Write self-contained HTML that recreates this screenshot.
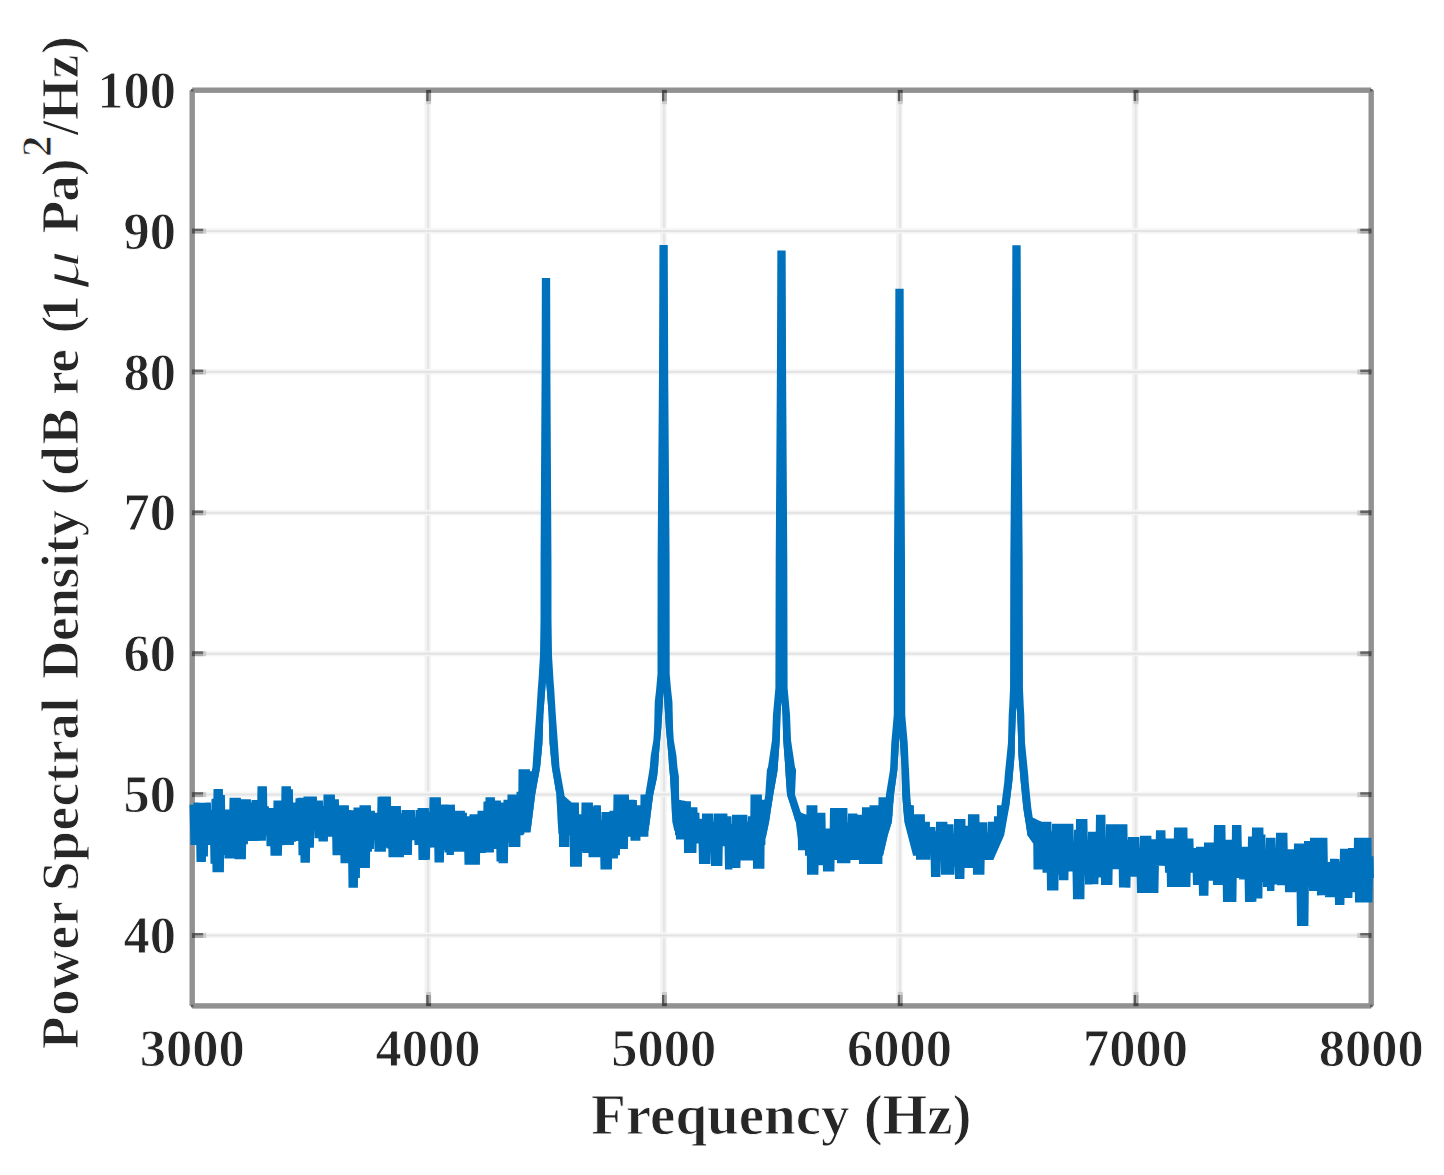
<!DOCTYPE html>
<html><head><meta charset="utf-8"><style>
html,body{margin:0;padding:0;background:#fff;}
svg{display:block;}
#w{}
text{font-family:"Liberation Serif",serif;font-weight:bold;fill:#262626;stroke:#fff;stroke-width:0.9px;}
</style></head><body>
<div id="w"><svg width="1444" height="1175" viewBox="0 0 1444 1175">
<rect width="1444" height="1175" fill="#fff"/>
<rect x="424.50" y="90.2" width="2.5" height="915.7" fill="#f3f3f3"/><rect x="427.00" y="90.2" width="2.4" height="915.7" fill="#e5e5e5"/><rect x="429.40" y="90.2" width="1.4" height="915.7" fill="#f0f0f0"/><rect x="660.30" y="90.2" width="2.5" height="915.7" fill="#f3f3f3"/><rect x="662.80" y="90.2" width="2.4" height="915.7" fill="#e5e5e5"/><rect x="665.20" y="90.2" width="1.4" height="915.7" fill="#f0f0f0"/><rect x="896.10" y="90.2" width="2.5" height="915.7" fill="#f3f3f3"/><rect x="898.60" y="90.2" width="2.4" height="915.7" fill="#e5e5e5"/><rect x="901.00" y="90.2" width="1.4" height="915.7" fill="#f0f0f0"/><rect x="1131.90" y="90.2" width="2.5" height="915.7" fill="#f3f3f3"/><rect x="1134.40" y="90.2" width="2.4" height="915.7" fill="#e5e5e5"/><rect x="1136.80" y="90.2" width="1.4" height="915.7" fill="#f0f0f0"/><rect x="192.2" y="932.46" width="1179.0" height="1.8" fill="#f7f7f7"/><rect x="192.2" y="934.26" width="1179.0" height="2.4" fill="#e4e4e4"/><rect x="192.2" y="936.66" width="1179.0" height="1.4" fill="#f4f4f4"/><rect x="192.2" y="791.58" width="1179.0" height="1.8" fill="#f7f7f7"/><rect x="192.2" y="793.38" width="1179.0" height="2.4" fill="#e4e4e4"/><rect x="192.2" y="795.78" width="1179.0" height="1.4" fill="#f4f4f4"/><rect x="192.2" y="650.71" width="1179.0" height="1.8" fill="#f7f7f7"/><rect x="192.2" y="652.51" width="1179.0" height="2.4" fill="#e4e4e4"/><rect x="192.2" y="654.91" width="1179.0" height="1.4" fill="#f4f4f4"/><rect x="192.2" y="509.83" width="1179.0" height="1.8" fill="#f7f7f7"/><rect x="192.2" y="511.63" width="1179.0" height="2.4" fill="#e4e4e4"/><rect x="192.2" y="514.03" width="1179.0" height="1.4" fill="#f4f4f4"/><rect x="192.2" y="368.95" width="1179.0" height="1.8" fill="#f7f7f7"/><rect x="192.2" y="370.75" width="1179.0" height="2.4" fill="#e4e4e4"/><rect x="192.2" y="373.15" width="1179.0" height="1.4" fill="#f4f4f4"/><rect x="192.2" y="228.08" width="1179.0" height="1.8" fill="#f7f7f7"/><rect x="192.2" y="229.88" width="1179.0" height="2.4" fill="#e4e4e4"/><rect x="192.2" y="232.28" width="1179.0" height="1.4" fill="#f4f4f4"/>
<rect x="189.50" y="90.20" width="5.4" height="915.70" fill="#919191"/><rect x="1368.50" y="90.20" width="5.4" height="915.70" fill="#919191"/><rect x="192.20" y="87.50" width="1179.00" height="5.4" fill="#919191"/><rect x="192.20" y="1003.20" width="1179.00" height="5.4" fill="#919191"/>
<rect x="426.20" y="991.90" width="4.9" height="3" fill="#cbcbcb"/><rect x="426.20" y="994.90" width="2.6" height="11" fill="#5a5a5a"/><rect x="428.80" y="994.90" width="2.3" height="11" fill="#a3a3a3"/><rect x="426.20" y="1003.20" width="4.9" height="3" fill="#454545"/><rect x="426.20" y="101.20" width="4.9" height="3" fill="#cbcbcb"/><rect x="426.20" y="90.20" width="2.6" height="11" fill="#5a5a5a"/><rect x="428.80" y="90.20" width="2.3" height="11" fill="#a3a3a3"/><rect x="426.20" y="89.90" width="4.9" height="3" fill="#454545"/><rect x="662.00" y="991.90" width="4.9" height="3" fill="#cbcbcb"/><rect x="662.00" y="994.90" width="2.6" height="11" fill="#5a5a5a"/><rect x="664.60" y="994.90" width="2.3" height="11" fill="#a3a3a3"/><rect x="662.00" y="1003.20" width="4.9" height="3" fill="#454545"/><rect x="662.00" y="101.20" width="4.9" height="3" fill="#cbcbcb"/><rect x="662.00" y="90.20" width="2.6" height="11" fill="#5a5a5a"/><rect x="664.60" y="90.20" width="2.3" height="11" fill="#a3a3a3"/><rect x="662.00" y="89.90" width="4.9" height="3" fill="#454545"/><rect x="897.80" y="991.90" width="4.9" height="3" fill="#cbcbcb"/><rect x="897.80" y="994.90" width="2.6" height="11" fill="#5a5a5a"/><rect x="900.40" y="994.90" width="2.3" height="11" fill="#a3a3a3"/><rect x="897.80" y="1003.20" width="4.9" height="3" fill="#454545"/><rect x="897.80" y="101.20" width="4.9" height="3" fill="#cbcbcb"/><rect x="897.80" y="90.20" width="2.6" height="11" fill="#5a5a5a"/><rect x="900.40" y="90.20" width="2.3" height="11" fill="#a3a3a3"/><rect x="897.80" y="89.90" width="4.9" height="3" fill="#454545"/><rect x="1133.60" y="991.90" width="4.9" height="3" fill="#cbcbcb"/><rect x="1133.60" y="994.90" width="2.6" height="11" fill="#5a5a5a"/><rect x="1136.20" y="994.90" width="2.3" height="11" fill="#a3a3a3"/><rect x="1133.60" y="1003.20" width="4.9" height="3" fill="#454545"/><rect x="1133.60" y="101.20" width="4.9" height="3" fill="#cbcbcb"/><rect x="1133.60" y="90.20" width="2.6" height="11" fill="#5a5a5a"/><rect x="1136.20" y="90.20" width="2.3" height="11" fill="#a3a3a3"/><rect x="1133.60" y="89.90" width="4.9" height="3" fill="#454545"/><rect x="203.20" y="933.06" width="3" height="4.9" fill="#cbcbcb"/><rect x="192.20" y="933.06" width="11" height="2.6" fill="#626262"/><rect x="192.20" y="935.66" width="11" height="2.3" fill="#a8a8a8"/><rect x="191.90" y="933.06" width="3" height="4.9" fill="#4f4f4f"/><rect x="1357.20" y="933.06" width="3" height="4.9" fill="#cbcbcb"/><rect x="1360.20" y="933.06" width="11" height="2.6" fill="#626262"/><rect x="1360.20" y="935.66" width="11" height="2.3" fill="#a8a8a8"/><rect x="1368.50" y="933.06" width="3" height="4.9" fill="#4f4f4f"/><rect x="203.20" y="792.18" width="3" height="4.9" fill="#cbcbcb"/><rect x="192.20" y="792.18" width="11" height="2.6" fill="#626262"/><rect x="192.20" y="794.78" width="11" height="2.3" fill="#a8a8a8"/><rect x="191.90" y="792.18" width="3" height="4.9" fill="#4f4f4f"/><rect x="1357.20" y="792.18" width="3" height="4.9" fill="#cbcbcb"/><rect x="1360.20" y="792.18" width="11" height="2.6" fill="#626262"/><rect x="1360.20" y="794.78" width="11" height="2.3" fill="#a8a8a8"/><rect x="1368.50" y="792.18" width="3" height="4.9" fill="#4f4f4f"/><rect x="203.20" y="651.31" width="3" height="4.9" fill="#cbcbcb"/><rect x="192.20" y="651.31" width="11" height="2.6" fill="#626262"/><rect x="192.20" y="653.91" width="11" height="2.3" fill="#a8a8a8"/><rect x="191.90" y="651.31" width="3" height="4.9" fill="#4f4f4f"/><rect x="1357.20" y="651.31" width="3" height="4.9" fill="#cbcbcb"/><rect x="1360.20" y="651.31" width="11" height="2.6" fill="#626262"/><rect x="1360.20" y="653.91" width="11" height="2.3" fill="#a8a8a8"/><rect x="1368.50" y="651.31" width="3" height="4.9" fill="#4f4f4f"/><rect x="203.20" y="510.43" width="3" height="4.9" fill="#cbcbcb"/><rect x="192.20" y="510.43" width="11" height="2.6" fill="#626262"/><rect x="192.20" y="513.03" width="11" height="2.3" fill="#a8a8a8"/><rect x="191.90" y="510.43" width="3" height="4.9" fill="#4f4f4f"/><rect x="1357.20" y="510.43" width="3" height="4.9" fill="#cbcbcb"/><rect x="1360.20" y="510.43" width="11" height="2.6" fill="#626262"/><rect x="1360.20" y="513.03" width="11" height="2.3" fill="#a8a8a8"/><rect x="1368.50" y="510.43" width="3" height="4.9" fill="#4f4f4f"/><rect x="203.20" y="369.55" width="3" height="4.9" fill="#cbcbcb"/><rect x="192.20" y="369.55" width="11" height="2.6" fill="#626262"/><rect x="192.20" y="372.15" width="11" height="2.3" fill="#a8a8a8"/><rect x="191.90" y="369.55" width="3" height="4.9" fill="#4f4f4f"/><rect x="1357.20" y="369.55" width="3" height="4.9" fill="#cbcbcb"/><rect x="1360.20" y="369.55" width="11" height="2.6" fill="#626262"/><rect x="1360.20" y="372.15" width="11" height="2.3" fill="#a8a8a8"/><rect x="1368.50" y="369.55" width="3" height="4.9" fill="#4f4f4f"/><rect x="203.20" y="228.68" width="3" height="4.9" fill="#cbcbcb"/><rect x="192.20" y="228.68" width="11" height="2.6" fill="#626262"/><rect x="192.20" y="231.28" width="11" height="2.3" fill="#a8a8a8"/><rect x="191.90" y="228.68" width="3" height="4.9" fill="#4f4f4f"/><rect x="1357.20" y="228.68" width="3" height="4.9" fill="#cbcbcb"/><rect x="1360.20" y="228.68" width="11" height="2.6" fill="#626262"/><rect x="1360.20" y="231.28" width="11" height="2.3" fill="#a8a8a8"/><rect x="1368.50" y="228.68" width="3" height="4.9" fill="#4f4f4f"/><rect x="191.00" y="89.00" width="2.6" height="2.6" fill="#5e5e5e"/><rect x="1370.00" y="89.00" width="2.6" height="2.6" fill="#5e5e5e"/><rect x="191.00" y="1004.70" width="2.6" height="2.6" fill="#5e5e5e"/><rect x="1370.00" y="1004.70" width="2.6" height="2.6" fill="#5e5e5e"/>
<path d="M192.20,804.72 193.20,844.89 194.20,804.72 195.20,844.89 196.20,802.68 197.20,839.44 198.20,802.68 199.20,861.91 200.20,802.68 201.20,861.91 202.20,802.68 203.20,861.91 204.20,802.68 205.20,856.37 206.20,802.68 207.20,844.89 208.20,802.68 209.20,844.89 210.20,810.17 211.20,844.89 212.20,810.17 213.20,863.74 214.20,798.67 215.20,872.12 216.20,789.06 217.20,872.12 218.20,789.06 219.20,872.12 220.20,789.06 221.20,872.12 222.20,795.10 223.20,846.25 224.20,809.49 225.20,854.85 226.20,809.49 227.20,858.51 228.20,809.49 229.20,858.51 230.20,809.49 231.20,858.51 232.20,797.91 233.20,858.51 234.20,797.91 235.20,846.25 236.20,797.91 237.20,859.19 238.20,797.91 239.20,859.19 240.20,810.17 241.20,859.19 242.20,799.28 243.20,859.19 244.20,799.28 245.20,844.21 246.20,799.28 247.20,840.81 248.20,799.28 249.20,840.81 250.20,802.68 251.20,840.81 252.20,802.68 253.20,840.81 254.20,799.96 255.20,840.81 256.20,799.96 257.20,840.81 258.20,799.96 259.20,840.81 260.20,786.34 261.20,840.81 262.20,786.34 263.20,840.81 264.20,786.34 265.20,835.36 266.20,806.44 267.20,835.36 268.20,808.13 269.20,846.25 270.20,808.13 271.20,846.25 272.20,808.13 273.20,855.78 274.20,808.13 275.20,855.78 276.20,800.64 277.20,855.78 278.20,800.64 279.20,855.78 280.20,800.64 281.20,845.14 282.20,800.64 283.20,844.89 284.20,786.34 285.20,844.89 286.20,786.34 287.20,844.89 288.20,786.34 289.20,844.89 290.20,789.18 291.20,844.89 292.20,802.68 293.20,841.66 294.20,802.68 295.20,840.81 296.20,802.68 297.20,840.81 298.20,798.28 299.20,840.81 300.20,797.91 301.20,855.30 302.20,797.91 303.20,862.59 304.20,797.91 305.20,862.59 306.20,796.55 307.20,862.59 308.20,796.55 309.20,847.61 310.20,796.55 311.20,847.61 312.20,796.55 313.20,829.91 314.20,796.55 315.20,829.91 316.20,800.64 317.20,838.08 318.20,800.64 319.20,838.08 320.20,800.64 321.20,841.49 322.20,806.08 323.20,841.49 324.20,806.08 325.20,841.49 326.20,794.51 327.20,836.72 328.20,794.51 329.20,836.72 330.20,794.51 331.20,836.72 332.20,794.51 333.20,836.72 334.20,799.28 335.20,855.10 336.20,799.28 337.20,855.10 338.20,805.40 339.20,855.10 340.20,805.40 341.20,855.10 342.20,805.40 343.20,863.27 344.20,805.40 345.20,863.27 346.20,805.40 347.20,863.27 348.20,810.17 349.20,863.27 350.20,810.17 351.20,887.78 352.20,810.17 353.20,887.78 354.20,817.66 355.20,887.78 356.20,807.45 357.20,878.05 358.20,807.45 359.20,854.42 360.20,807.45 361.20,868.04 362.20,805.40 363.20,868.04 364.20,805.40 365.20,868.04 366.20,805.40 367.20,868.04 368.20,805.40 369.20,851.70 370.20,810.81 371.20,848.93 372.20,810.81 373.20,838.04 374.20,812.85 375.20,838.04 376.20,812.85 377.20,851.66 378.20,812.85 379.20,851.66 380.20,796.81 381.20,851.66 382.20,796.51 383.20,851.66 384.20,796.51 385.20,847.57 386.20,796.51 387.20,847.57 388.20,796.51 389.20,848.53 390.20,806.04 391.20,857.10 392.20,806.04 393.20,857.10 394.20,806.04 395.20,857.10 396.20,806.04 397.20,857.10 398.20,806.04 399.20,857.10 400.20,813.53 401.20,857.10 402.20,813.53 403.20,843.49 404.20,810.13 405.20,855.06 406.20,810.13 407.20,855.06 408.20,810.13 409.20,855.06 410.20,810.13 411.20,840.08 412.20,810.13 413.20,840.08 414.20,817.61 415.20,840.08 416.20,817.61 417.20,844.85 418.20,810.03 419.20,844.85 420.20,808.08 421.20,859.83 422.20,808.08 423.20,859.83 424.20,808.08 425.20,859.83 426.20,808.08 427.20,859.73 428.20,812.17 429.20,847.57 430.20,812.17 431.20,847.57 432.20,797.19 433.20,847.57 434.20,797.19 435.20,847.57 436.20,797.19 437.20,862.55 438.20,797.19 439.20,862.55 440.20,808.76 441.20,862.55 442.20,804.68 443.20,850.16 444.20,804.68 445.20,846.21 446.20,804.68 447.20,852.37 448.20,804.68 449.20,855.06 450.20,804.68 451.20,855.06 452.20,804.68 453.20,851.66 454.20,810.81 455.20,851.66 456.20,810.81 457.20,851.66 458.20,810.81 459.20,851.66 460.20,810.81 461.20,851.66 462.20,810.81 463.20,851.66 464.20,812.77 465.20,851.66 466.20,816.25 467.20,864.59 468.20,816.25 469.20,864.59 470.20,816.25 471.20,864.59 472.20,814.21 473.20,864.59 474.20,814.21 475.20,864.59 476.20,814.21 477.20,864.59 478.20,814.21 479.20,853.02 480.20,810.81 481.20,853.02 482.20,810.81 483.20,852.93 484.20,810.81 485.20,852.34 486.20,801.62 487.20,852.34 488.20,797.19 489.20,852.34 490.20,797.19 491.20,852.34 492.20,797.19 493.20,848.93 494.20,800.59 495.20,848.93 496.20,800.59 497.20,848.93 498.20,800.59 499.20,861.58 500.20,802.64 501.20,863.23 502.20,802.64 503.20,863.23 504.20,802.64 505.20,863.23 506.20,799.91 507.20,842.12 508.20,799.91 509.20,842.12 510.20,794.47 511.20,846.89 512.20,794.47 513.20,846.89 514.20,794.47 515.20,846.89 516.20,794.47 516.70,846.89 517.20,801.27 517.70,846.89 518.20,801.27 518.70,835.32 519.20,791.74 519.70,835.32 520.20,791.74 520.70,835.32 521.20,769.28 521.70,834.20 522.20,769.28 522.70,832.59 523.20,769.28 523.70,832.59 524.20,769.28 524.70,832.59 525.20,769.28 525.70,832.59 526.20,769.28 526.70,832.59 527.20,769.28 527.70,832.59 528.20,776.76 528.70,825.38 529.20,776.76 529.70,817.70 530.20,771.32 530.70,809.70 531.20,771.32 531.70,801.70 532.20,771.32 532.70,793.94 533.20,771.32 533.70,788.33 534.20,772.01 534.70,782.71 535.20,772.87 535.70,777.10 536.20,773.73 536.70,771.49 537.20,768.68 537.70,764.87 538.20,759.54 538.70,754.22 539.20,748.89 539.70,743.57 540.20,728.90 540.70,713.97 541.20,707.31 541.70,700.65 542.20,693.99 542.70,687.38 543.20,681.23 543.70,680.00 544.20,680.00 544.70,680.00 545.20,680.00 545.70,680.00 546.20,680.00 546.70,680.00 547.20,680.00 547.70,680.00 548.20,680.00 548.70,680.00 549.20,686.15 549.70,692.66 550.20,699.32 550.70,705.98 551.20,712.64 551.70,725.50 552.20,742.50 552.70,747.83 553.20,753.15 553.70,758.48 554.20,763.80 554.70,768.20 555.20,771.18 555.70,774.17 556.20,777.16 556.70,780.15 557.20,783.14 557.70,786.13 558.20,789.12 558.70,792.11 559.20,793.55 559.70,807.05 560.20,794.41 560.70,826.31 561.20,795.27 561.70,846.89 562.20,796.14 562.70,846.89 563.20,797.00 563.70,846.89 564.20,797.86 564.70,846.89 565.20,798.72 565.70,846.89 566.20,799.58 566.70,846.89 567.20,800.44 567.70,835.32 568.20,801.31 568.70,835.32 569.20,802.17 569.70,835.32 570.20,802.64 570.70,835.32 571.20,802.64 571.70,835.32 572.20,802.64 572.70,866.63 573.20,802.64 573.70,866.63 574.20,802.64 574.70,866.63 575.20,802.64 575.70,866.63 576.20,802.64 577.20,866.63 578.20,814.21 579.20,866.63 580.20,814.21 581.20,851.66 582.20,814.21 583.20,851.66 584.20,802.64 585.20,853.02 586.20,802.64 587.20,853.02 588.20,802.64 589.20,853.02 590.20,802.64 591.20,857.10 592.20,820.34 593.20,857.10 594.20,806.54 595.20,857.10 596.20,805.36 597.20,857.10 598.20,805.36 599.20,857.10 600.20,820.34 601.20,857.10 602.20,820.34 603.20,869.36 604.20,812.17 605.20,869.36 606.20,812.17 607.20,869.36 608.20,812.17 609.20,869.36 610.20,812.17 611.20,858.46 612.20,810.81 613.20,858.46 614.20,810.81 615.20,858.46 616.20,794.47 617.20,855.11 618.20,794.47 619.20,848.93 620.20,794.47 621.20,848.93 622.20,794.47 623.20,848.93 624.20,794.47 625.20,848.93 626.20,794.47 627.20,836.68 628.20,799.91 629.20,836.68 630.20,799.91 631.20,836.68 632.20,799.91 633.20,840.76 634.20,799.91 634.70,840.76 635.20,809.44 635.70,840.76 636.20,809.44 636.70,840.76 637.20,809.44 637.70,840.76 638.20,805.36 638.70,836.68 639.20,805.36 639.70,836.68 640.20,805.36 640.70,836.68 641.20,805.36 641.70,836.68 642.20,805.36 642.70,836.68 643.20,794.47 643.70,836.68 644.20,794.47 644.70,836.68 645.20,794.47 645.70,836.68 646.20,794.62 646.70,825.02 647.20,794.79 647.70,817.70 648.20,794.96 648.70,809.70 649.20,795.14 649.70,801.70 650.20,795.31 650.70,794.04 651.20,791.71 651.70,789.39 652.20,787.06 652.70,784.74 653.20,782.41 653.70,780.09 654.20,777.76 654.70,774.20 655.20,769.40 655.70,762.77 656.20,754.86 656.70,749.14 657.20,743.43 657.70,737.90 658.20,732.67 658.70,726.52 659.20,718.25 659.70,709.97 660.20,701.70 660.70,693.34 661.20,690.00 661.70,690.00 662.20,690.00 662.70,690.00 663.20,690.00 663.70,690.00 664.20,690.00 664.70,690.00 665.20,690.00 665.70,690.00 666.20,690.00 666.70,696.69 667.20,705.01 667.70,713.28 668.20,721.55 668.70,729.52 669.20,734.76 669.70,740.00 670.20,745.71 670.70,751.43 671.20,757.69 671.70,766.15 672.20,771.32 672.70,776.12 673.20,785.08 673.70,794.50 674.20,799.45 674.70,815.42 675.20,799.62 675.70,824.80 676.20,799.79 676.70,829.23 677.20,799.96 677.70,835.32 678.20,800.14 678.70,839.40 679.20,800.31 679.70,839.40 680.20,800.48 680.70,839.40 681.20,800.65 681.70,839.40 682.20,800.83 682.70,839.40 683.20,801.00 683.70,839.40 684.20,801.17 684.70,839.40 685.20,801.27 685.70,839.40 686.20,801.27 686.70,853.02 687.20,801.27 687.70,853.02 688.20,801.27 688.70,853.02 689.20,807.40 689.70,853.02 690.20,807.40 690.70,853.02 691.20,807.40 691.70,853.02 692.20,807.40 692.70,853.02 693.20,807.40 693.70,853.02 694.70,807.40 695.70,843.49 696.70,812.88 697.70,843.49 698.70,818.98 699.70,843.49 700.70,818.98 701.70,863.91 702.70,818.98 703.70,863.91 704.70,813.53 705.70,863.91 706.70,813.53 707.70,863.91 708.70,813.53 709.70,851.66 710.70,813.53 711.70,851.66 712.70,821.70 713.70,865.95 714.70,821.70 715.70,865.95 716.70,813.53 717.70,865.95 718.70,813.53 719.70,865.95 720.70,813.53 721.70,846.21 722.70,813.53 723.70,846.21 724.70,813.53 725.70,846.21 726.70,816.25 727.70,869.36 728.70,816.25 729.70,869.36 730.70,824.42 731.70,868.00 732.70,824.42 733.70,868.00 734.70,814.89 735.70,868.00 736.70,814.89 737.70,868.00 738.70,814.89 739.70,859.83 740.70,814.89 741.70,860.51 742.70,814.89 743.70,860.51 744.70,814.89 745.70,860.51 746.70,821.70 747.70,860.51 748.70,821.70 749.70,860.51 750.70,816.25 751.70,860.51 752.20,816.25 752.70,843.49 753.20,794.47 753.70,843.49 754.20,794.47 754.70,843.49 755.20,794.47 755.70,868.68 756.20,794.47 756.70,868.68 757.20,794.47 757.70,868.68 758.20,794.47 758.70,868.68 759.20,794.47 759.70,868.68 760.20,802.64 760.70,868.68 761.20,802.64 761.70,868.68 762.20,802.64 762.70,844.85 763.20,799.91 763.70,835.12 764.20,799.91 764.70,830.33 765.20,799.91 765.70,825.54 766.20,800.22 766.70,820.37 767.20,800.60 767.70,813.74 768.20,800.98 768.70,807.10 769.20,801.36 769.70,800.47 770.20,797.15 770.70,793.94 771.20,791.13 771.70,788.32 772.20,785.52 772.70,782.71 773.20,779.90 773.70,777.10 774.20,774.29 774.70,771.48 775.20,765.02 775.70,758.44 776.20,751.85 776.70,745.27 777.20,736.15 777.70,716.92 778.20,708.57 778.70,701.43 779.20,700.00 779.70,700.00 780.20,700.00 780.70,700.00 781.20,700.00 781.70,700.00 782.20,700.00 782.70,700.00 783.20,700.00 783.70,700.00 784.20,700.00 784.70,707.14 785.20,714.29 785.70,732.31 786.20,743.95 786.70,750.54 787.20,757.12 787.70,763.71 788.20,772.71 788.70,779.97 789.20,787.24 789.70,794.50 790.20,796.05 790.70,797.59 791.20,799.14 791.70,800.68 792.20,802.23 792.70,803.77 793.20,805.32 793.70,806.86 794.20,808.41 794.70,809.95 795.20,811.26 795.70,813.05 796.20,811.65 796.70,816.14 797.20,812.03 797.70,819.23 798.20,812.41 798.70,823.33 799.20,812.79 799.70,831.48 800.20,813.17 800.70,850.25 801.20,813.55 801.70,850.29 802.20,813.93 802.70,850.29 803.20,814.31 803.70,850.29 804.20,814.69 804.70,850.29 805.20,815.07 805.70,850.29 806.20,815.45 806.70,850.29 807.20,815.84 807.70,855.74 808.20,816.22 808.70,855.74 809.20,805.36 809.70,874.80 810.20,805.36 810.70,874.80 811.20,805.36 811.70,874.80 812.70,805.36 813.70,874.80 814.70,805.36 815.70,874.80 816.70,821.70 817.70,865.27 818.70,812.85 819.70,865.27 820.70,812.85 821.70,865.27 822.70,812.85 823.70,865.27 824.70,828.51 825.70,871.40 826.70,828.51 827.70,871.40 828.70,828.51 829.70,871.40 830.70,828.51 831.70,871.40 832.70,808.08 833.70,859.83 834.70,808.08 835.70,859.83 836.70,808.08 837.70,859.83 838.70,808.08 839.70,863.23 840.70,808.08 841.70,863.23 842.70,808.08 843.70,863.23 844.70,808.08 845.70,863.23 846.70,823.06 847.70,863.23 848.70,823.06 849.70,859.83 850.70,813.53 851.70,859.83 852.70,813.53 853.70,859.83 854.70,813.53 855.70,859.83 856.70,827.15 857.70,859.83 858.70,814.89 859.70,857.10 860.70,814.89 861.70,863.91 862.70,814.89 863.70,863.91 864.70,807.40 865.70,863.91 866.70,807.40 867.70,863.91 868.70,807.40 869.70,863.91 870.20,807.40 870.70,863.91 871.20,807.40 871.70,863.91 872.20,805.36 872.70,863.91 873.20,805.36 873.70,863.91 874.20,805.36 874.70,863.91 875.20,805.36 875.70,863.91 876.20,805.36 876.70,863.91 877.20,805.36 877.70,863.91 878.20,805.36 878.70,863.91 879.20,805.36 879.70,863.91 880.20,805.36 880.70,854.41 881.20,797.19 881.70,850.09 882.20,797.19 882.70,845.78 883.20,797.19 883.70,841.47 884.20,797.19 884.70,837.16 885.20,797.19 885.70,833.38 886.20,797.19 886.70,830.13 887.20,797.40 887.70,826.89 888.20,797.75 888.70,823.65 889.20,798.10 889.70,816.26 890.20,798.45 890.70,802.66 891.20,795.86 891.70,791.59 892.20,787.96 892.70,784.33 893.20,780.70 893.70,777.06 894.20,773.43 894.70,769.80 895.20,760.47 895.70,752.30 896.20,744.13 896.70,736.50 897.20,735.00 897.70,735.00 898.20,735.00 898.70,735.00 899.20,735.00 899.70,735.00 900.20,735.00 900.70,735.00 901.20,735.00 901.70,735.00 902.20,735.00 902.70,742.50 903.20,750.67 903.70,758.83 904.20,767.00 904.70,786.27 905.20,798.39 905.70,804.86 906.20,804.03 906.70,817.81 907.20,804.38 907.70,824.44 908.20,804.73 908.70,828.35 909.20,805.08 909.70,832.26 910.20,805.36 910.70,836.15 911.20,805.36 911.70,839.98 912.20,814.21 912.70,843.82 913.20,814.21 913.70,847.65 914.20,814.21 914.70,851.48 915.20,814.21 915.70,854.38 916.20,814.21 916.70,854.38 917.20,814.21 917.70,854.38 918.20,814.21 918.70,859.83 919.20,814.21 919.70,859.83 920.20,814.21 920.70,859.83 921.20,814.21 921.70,859.83 922.20,814.21 922.70,859.83 923.20,821.70 923.70,859.83 924.20,821.70 924.70,859.83 925.20,821.70 925.70,859.83 926.20,821.70 926.70,859.83 927.20,821.70 927.70,859.83 928.20,827.15 928.70,854.38 929.20,827.15 929.70,854.38 930.70,827.15 931.70,854.38 932.70,827.15 933.70,876.85 934.70,831.23 935.70,876.85 936.70,831.23 937.70,876.85 938.70,821.70 939.70,859.83 940.70,821.70 941.70,859.83 942.70,821.70 943.70,874.80 944.70,821.70 945.70,874.80 946.70,824.42 947.70,874.80 948.70,824.42 949.70,874.80 950.70,824.42 951.70,874.80 952.70,833.95 953.70,866.63 954.70,833.95 955.70,866.63 956.70,818.98 957.70,878.89 958.70,818.98 959.70,878.89 960.70,818.98 961.70,878.89 962.70,818.98 963.70,868.00 964.70,825.78 965.70,868.00 966.70,825.78 967.70,868.00 968.70,825.78 969.70,868.00 970.70,814.21 971.70,868.00 972.70,814.21 973.70,868.00 974.70,814.21 975.70,874.80 976.70,814.21 977.70,874.80 978.70,822.38 979.70,874.80 980.70,822.38 981.70,874.80 982.70,822.38 983.70,859.83 984.70,822.38 985.70,859.83 986.70,832.59 987.20,859.83 987.70,832.59 988.20,859.83 988.70,832.59 989.20,859.83 989.70,832.59 990.20,859.83 990.70,821.70 991.20,858.64 991.70,821.70 992.20,853.02 992.70,821.70 993.20,853.02 993.70,821.70 994.20,851.84 994.70,821.70 995.20,849.58 995.70,821.70 996.20,847.31 996.70,816.25 997.20,843.49 997.70,816.25 998.20,842.78 998.70,816.25 999.20,840.51 999.70,805.36 1000.20,838.25 1000.70,805.36 1001.20,835.98 1001.70,805.36 1002.20,831.32 1002.70,805.36 1003.20,825.63 1003.70,805.36 1004.20,819.94 1004.70,805.70 1005.20,814.26 1005.70,806.17 1006.20,808.57 1006.70,804.82 1007.20,800.85 1007.70,796.88 1008.20,792.91 1008.70,788.94 1009.20,784.97 1009.70,781.00 1010.20,774.87 1010.70,769.12 1011.20,763.36 1011.70,757.60 1012.20,739.75 1012.70,726.00 1013.20,713.57 1013.70,706.43 1014.20,705.00 1014.70,705.00 1015.20,705.00 1015.70,705.00 1016.20,705.00 1016.70,705.00 1017.20,705.00 1017.70,705.00 1018.20,705.00 1018.70,705.00 1019.20,705.00 1019.70,712.14 1020.20,723.25 1020.70,737.00 1021.20,756.45 1021.70,762.21 1022.20,767.97 1022.70,773.72 1023.20,779.74 1023.70,785.00 1024.20,790.00 1024.70,795.00 1025.20,800.00 1025.70,805.00 1026.20,809.33 1026.70,812.66 1027.20,815.99 1027.70,816.32 1028.20,822.65 1028.70,816.78 1029.20,829.31 1029.70,817.24 1030.20,835.44 1030.70,817.70 1031.20,836.86 1031.70,818.17 1032.20,838.27 1032.70,818.63 1033.20,839.68 1033.70,819.09 1034.20,841.10 1034.70,819.55 1035.20,842.51 1035.70,820.01 1036.20,869.36 1036.70,820.47 1037.20,869.36 1037.70,820.93 1038.20,869.36 1038.70,821.40 1039.20,869.36 1039.70,821.70 1040.20,869.36 1040.70,821.70 1041.20,869.36 1041.70,821.70 1042.20,869.36 1042.70,821.70 1043.20,869.36 1043.70,821.70 1044.20,869.36 1044.70,821.70 1045.20,872.76 1045.70,821.70 1046.20,872.76 1046.70,821.70 1047.70,872.76 1048.70,821.70 1049.70,890.46 1050.70,831.23 1051.70,890.46 1052.70,831.23 1053.70,890.46 1054.70,823.74 1055.70,890.46 1056.70,823.74 1057.70,874.80 1058.70,823.74 1059.70,874.80 1060.70,823.74 1061.70,880.25 1062.70,823.74 1063.70,880.25 1064.70,823.74 1065.70,880.25 1066.70,823.74 1067.70,871.40 1068.70,823.74 1069.70,871.40 1070.70,823.74 1071.70,871.40 1072.70,844.85 1073.70,871.40 1074.70,844.85 1075.70,899.31 1076.70,829.87 1077.70,899.31 1078.70,818.98 1079.70,899.31 1080.70,818.98 1081.70,899.31 1082.70,818.98 1083.70,874.80 1084.70,818.98 1085.70,874.80 1086.70,840.76 1087.70,884.34 1088.70,840.76 1089.70,884.34 1090.70,831.74 1091.70,884.17 1092.70,831.74 1093.70,884.17 1094.70,831.74 1095.70,884.17 1096.70,831.74 1097.70,877.36 1098.70,814.72 1099.70,877.36 1100.70,814.72 1101.70,877.36 1102.70,814.72 1103.70,884.85 1104.70,845.36 1105.70,884.85 1106.70,845.36 1107.70,884.85 1108.70,824.25 1109.70,884.85 1110.70,824.25 1111.70,869.19 1112.70,824.25 1113.70,869.19 1114.70,824.25 1115.70,869.19 1116.70,842.64 1117.70,869.19 1118.70,824.25 1119.70,869.19 1120.70,824.25 1121.70,887.57 1122.70,824.25 1123.70,887.57 1124.70,824.25 1125.70,887.57 1126.70,839.91 1127.70,887.57 1128.70,839.91 1129.70,876.68 1130.70,837.19 1131.70,876.68 1132.70,837.19 1133.70,876.68 1134.70,837.19 1135.70,876.68 1136.70,837.19 1137.70,876.68 1138.70,848.08 1139.70,893.02 1140.70,848.08 1141.70,893.02 1142.70,835.83 1143.70,893.02 1144.70,835.83 1145.70,893.02 1146.70,835.83 1147.70,893.02 1148.70,835.83 1149.70,893.02 1150.70,839.23 1151.70,893.02 1152.70,839.23 1153.70,893.02 1154.70,839.23 1155.70,893.02 1156.70,839.23 1157.70,865.78 1158.70,830.38 1159.70,865.78 1160.70,830.38 1161.70,865.78 1162.70,830.38 1163.70,865.78 1164.70,838.55 1165.70,865.78 1166.70,838.55 1167.70,872.59 1168.70,838.55 1169.70,886.89 1170.70,838.55 1171.70,886.89 1172.70,838.55 1173.70,886.89 1174.70,838.55 1175.70,886.89 1176.70,827.66 1177.70,886.89 1178.70,827.66 1179.70,886.89 1180.70,827.66 1181.70,886.89 1182.70,827.66 1183.70,886.89 1184.70,827.66 1185.70,886.89 1186.70,838.55 1187.70,886.89 1188.70,838.55 1189.70,872.59 1190.70,838.55 1191.70,872.59 1192.70,848.08 1193.70,872.59 1194.70,848.08 1195.70,884.85 1196.70,848.08 1197.70,884.85 1198.70,846.72 1199.70,884.85 1200.70,846.72 1201.70,895.74 1202.70,846.72 1203.70,895.74 1204.70,846.72 1205.70,895.74 1206.70,842.64 1207.70,880.76 1208.70,842.64 1209.70,880.76 1210.70,842.64 1211.70,880.76 1212.70,842.64 1213.70,880.76 1214.70,842.64 1215.70,884.85 1216.70,824.93 1217.70,884.85 1218.70,824.93 1219.70,884.85 1220.70,824.93 1221.70,884.85 1222.70,824.93 1223.70,884.85 1224.70,839.91 1225.70,901.87 1226.70,839.91 1227.70,901.87 1228.70,839.91 1229.70,901.87 1230.70,839.91 1231.70,901.87 1232.70,839.91 1233.70,901.87 1234.70,824.93 1235.70,878.04 1236.70,824.93 1237.70,878.04 1238.70,824.93 1239.70,878.04 1240.70,846.72 1241.70,879.40 1242.70,846.72 1243.70,879.40 1244.70,846.72 1245.70,879.40 1246.70,846.72 1247.70,901.87 1248.70,846.72 1249.70,901.87 1250.70,836.60 1251.70,901.87 1252.70,836.60 1253.70,901.71 1254.70,827.66 1255.70,898.46 1256.70,827.66 1257.70,898.46 1258.70,827.66 1259.70,898.46 1260.70,827.66 1261.70,881.92 1262.70,834.68 1263.70,881.92 1264.70,853.83 1265.70,887.03 1266.70,853.83 1267.70,887.03 1268.70,837.87 1269.70,890.86 1270.70,837.87 1271.70,890.86 1272.70,837.87 1273.70,884.47 1274.70,847.45 1275.70,884.47 1276.70,847.45 1277.70,884.47 1278.70,832.77 1279.70,885.11 1280.70,832.77 1281.70,885.11 1282.70,832.77 1283.70,885.11 1284.70,832.77 1285.70,885.11 1286.70,849.36 1287.70,892.13 1288.70,849.36 1289.70,892.13 1290.70,849.36 1291.70,892.13 1292.70,849.36 1293.70,892.13 1294.70,849.36 1295.70,890.86 1296.70,843.62 1297.70,890.86 1298.70,843.62 1299.70,925.96 1300.70,843.62 1301.70,925.96 1302.70,843.62 1303.70,925.96 1304.70,843.62 1305.70,925.96 1306.70,841.07 1307.70,884.47 1308.70,841.07 1309.70,884.47 1310.70,841.07 1311.70,890.86 1312.70,837.87 1313.70,890.86 1314.70,837.87 1315.70,890.86 1316.70,837.87 1317.70,890.86 1318.70,853.83 1319.70,895.32 1320.70,837.87 1321.70,895.32 1322.70,837.87 1323.70,895.32 1324.70,837.87 1325.70,895.32 1326.70,862.13 1327.70,897.24 1328.70,862.13 1329.70,897.24 1330.70,862.13 1331.70,897.24 1332.70,858.94 1333.70,897.24 1334.70,858.94 1335.70,897.24 1336.70,858.94 1337.70,904.90 1338.70,861.49 1339.70,904.90 1340.70,861.49 1341.70,904.90 1342.70,848.73 1343.70,897.88 1344.70,848.73 1345.70,897.88 1346.70,848.73 1347.70,897.88 1348.70,858.94 1349.70,897.88 1350.70,848.09 1351.70,892.13 1352.70,848.09 1353.70,892.13 1354.70,848.09 1355.70,892.13 1356.70,837.87 1357.70,902.35 1358.70,837.87 1359.70,902.35 1360.70,837.87 1361.70,902.35 1362.70,837.87 1363.70,902.35 1364.70,837.87 1365.70,902.35 1366.70,837.87 1367.70,902.35 1368.70,837.87 1369.70,902.35 1370.70,856.39 1371.20,878.09" fill="none" stroke="#0072BD" stroke-width="5.4" stroke-linejoin="miter" stroke-linecap="butt"/><path d="M522.50,832.00 523.90,821.70 527.30,794.50 532.50,767.00 534.15,742.50 536.15,715.30 537.85,688.00 538.50,680.00 540.00,655.00 540.50,620.00 540.55,560.00 541.60,372.00 541.85,277.90 550.15,277.90 550.40,372.00 551.45,560.00 551.50,620.00 552.00,655.00 553.50,680.00 554.15,688.00 555.85,715.30 557.85,742.50 559.50,767.00 564.40,794.50 565.70,821.70 566.50,834.00 558.50,834.00 557.70,821.70 556.40,794.50 551.80,767.00 549.50,742.50 548.70,715.30 546.65,688.00 546.00,680.00 545.35,688.00 543.30,715.30 542.50,742.50 540.20,767.00 535.30,794.50 531.90,821.70 530.50,832.00Z M640.50,831.00 641.90,821.70 645.30,794.50 648.30,776.60 649.80,767.00 650.70,756.00 653.40,740.00 654.10,729.00 654.75,701.70 656.10,690.00 657.50,674.00 657.60,560.00 659.00,372.00 659.45,245.00 667.75,245.00 668.20,372.00 669.60,560.00 669.70,674.00 671.10,690.00 672.45,701.70 673.10,729.00 673.80,740.00 676.50,756.00 677.40,767.00 678.90,776.60 679.00,794.50 680.30,821.70 682.40,831.00 674.40,831.00 672.30,821.70 671.00,794.50 670.05,776.60 669.05,767.00 668.40,756.00 667.00,740.00 665.95,729.00 664.30,701.70 663.60,690.00 662.90,701.70 661.25,729.00 660.20,740.00 658.80,756.00 658.15,767.00 657.15,776.60 653.30,794.50 649.90,821.70 648.50,831.00Z M757.80,838.00 761.20,821.70 765.30,794.50 766.90,769.80 768.00,767.00 772.00,740.00 772.95,715.00 774.30,700.00 775.40,688.00 775.70,560.00 776.90,372.00 777.35,250.50 785.65,250.50 786.10,372.00 787.30,560.00 787.60,688.00 788.70,700.00 790.05,715.00 791.00,740.00 795.00,767.00 796.10,769.80 795.00,794.50 803.80,821.70 805.80,838.00 797.80,838.00 795.80,821.70 787.00,794.50 785.30,769.80 785.25,767.00 783.20,740.00 782.55,715.00 781.50,700.00 780.45,715.00 779.80,740.00 777.75,767.00 777.70,769.80 773.30,794.50 769.20,821.70 765.80,838.00Z M875.10,855.70 879.90,835.00 884.00,821.70 886.00,794.50 890.00,769.80 890.20,767.00 891.30,742.50 892.00,735.00 893.75,715.00 894.00,560.00 895.10,372.00 895.35,288.70 903.65,288.70 903.90,372.00 905.00,560.00 905.25,715.00 907.00,735.00 907.70,742.50 908.80,767.00 909.00,769.80 910.20,794.50 912.30,821.70 915.70,835.00 921.10,855.70 913.10,855.70 907.70,835.00 904.30,821.70 902.20,794.50 901.60,769.80 901.50,767.00 900.00,742.50 899.50,735.00 899.00,742.50 897.50,767.00 897.40,769.80 894.00,794.50 892.00,821.70 887.90,835.00 883.10,855.70Z M985.30,860.00 996.20,835.30 1001.00,808.00 1004.40,781.00 1004.60,776.60 1006.95,753.00 1008.00,742.50 1008.70,715.00 1009.30,705.00 1010.05,688.00 1010.30,560.00 1011.90,372.00 1012.35,245.30 1020.65,245.30 1021.10,372.00 1022.70,560.00 1022.95,688.00 1023.70,705.00 1024.30,715.00 1025.00,742.50 1026.05,753.00 1028.40,776.60 1028.60,781.00 1031.30,808.00 1035.40,835.30 1041.20,843.50 1033.20,843.50 1027.40,835.30 1023.30,808.00 1020.60,781.00 1020.25,776.60 1018.20,753.00 1018.20,742.50 1017.20,715.00 1016.50,705.00 1015.80,715.00 1014.80,742.50 1014.80,753.00 1012.75,776.60 1012.40,781.00 1009.00,808.00 1004.20,835.30 993.30,860.00Z" fill="#0072BD"/>
<g font-size="52.5"><text x="192.20" y="1065.5" text-anchor="middle">3000</text><text x="428.00" y="1065.5" text-anchor="middle">4000</text><text x="663.80" y="1065.5" text-anchor="middle">5000</text><text x="899.60" y="1065.5" text-anchor="middle">6000</text><text x="1135.40" y="1065.5" text-anchor="middle">7000</text><text x="1371.20" y="1065.5" text-anchor="middle">8000</text><text x="176" y="953.06" text-anchor="end">40</text><text x="176" y="812.18" text-anchor="end">50</text><text x="176" y="671.31" text-anchor="end">60</text><text x="176" y="530.43" text-anchor="end">70</text><text x="176" y="389.55" text-anchor="end">80</text><text x="176" y="248.68" text-anchor="end">90</text><text x="176" y="107.80" text-anchor="end">100</text></g>
<text x="591" y="1133.5" font-size="57">Frequency (Hz)</text>
<g transform="rotate(-90)" font-size="53" opacity="0.999"><text x="-1049.11" y="78.0" letter-spacing="0.86">Power</text><text x="-890.92" y="78.0" letter-spacing="0.68">Spectral</text><text x="-678.93" y="78.0" letter-spacing="-0.25">Density</text><text x="-495.23" y="78.0" letter-spacing="1.86">(dB</text><text x="-395.02" y="78.0" letter-spacing="-0.25">re</text><text x="-333.23" y="78.0" letter-spacing="-6.08">(1</text><text x="-233.31" y="78.0" letter-spacing="-0.89">Pa)</text><text x="-135.18" y="78.0" letter-spacing="0.53">/Hz)</text><text transform="translate(-287.65,78.0) scale(1.402,1)" x="0" y="0" style="font-style:italic;font-weight:normal">&#956;</text><text x="-157.01" y="50.8" font-size="43">2</text></g>
</svg></div>
</body></html>
